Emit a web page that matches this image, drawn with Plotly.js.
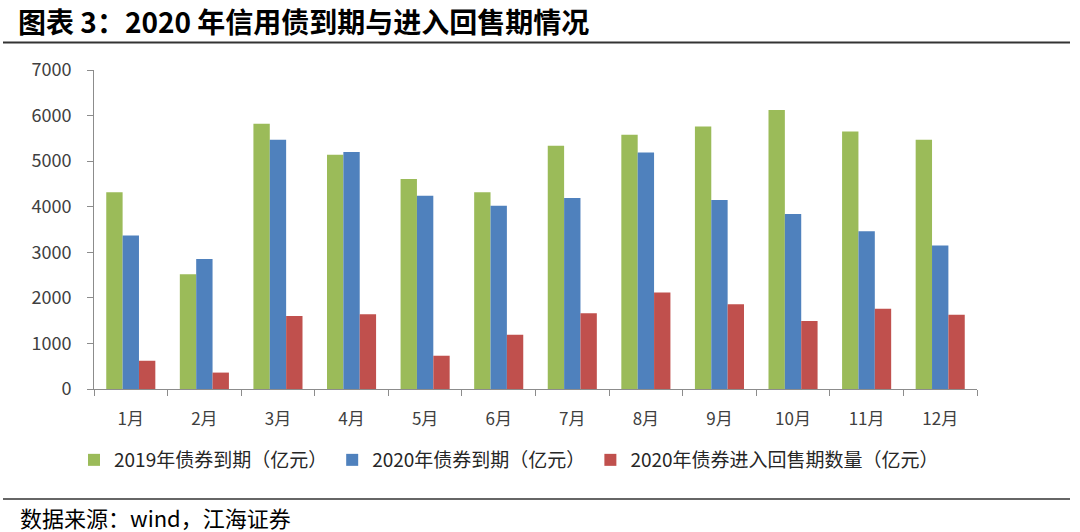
<!DOCTYPE html>
<html>
<head>
<meta charset="utf-8">
<script src="https://cdn.plot.ly/plotly-3.0.1.min.js"></script>
<style>html,body{margin:0;padding:0;background:#fff;}#chart{width:1080px;height:532px;}</style>
</head>
<body>
<div id="chart"></div>
<script>
const months = ["1月","2月","3月","4月","5月","6月","7月","8月","9月","10月","11月","12月"];
const due2019 = [4320, 2520, 5820, 5140, 4610, 4320, 5340, 5580, 5760, 6120, 5650, 5470];
const due2020 = [3370, 2850, 5470, 5200, 4240, 4020, 4190, 5190, 4150, 3840, 3460, 3150];
const putback2020 = [620, 360, 1600, 1640, 730, 1190, 1660, 2120, 1860, 1490, 1760, 1630];
const seriesNames = ["2019年债券到期（亿元）","2020年债券到期（亿元）","2020年债券进入回售期数量（亿元）"];
const colors = ["#9BBB59","#4F81BD","#C0504D"];
const titleText = "图表 3：2020 年信用债到期与进入回售期情况";
const sourceText = "数据来源：wind，江海证券";

const font = "Noto Sans CJK SC, Noto Sans, sans-serif";
const vals = [due2019, due2020, putback2020];
const traces = vals.map((v,i)=>({
  type:"bar", x:months, y:v, name:seriesNames[i],
  marker:{color:colors[i], line:{width:0}},
  hoverinfo:"y"
}));

// plot area: left 94, right 977, top 70, bottom 389
const L=94, R=977, T=70, B=389, W=1080, H=532;
const px = x => (x-L)/(R-L);
const py = y => (B-y)/(B-T);

const layout = {
  width:W, height:H,
  margin:{l:L, r:W-R, t:T, b:H-B, pad:0},
  paper_bgcolor:"#fff", plot_bgcolor:"#fff",
  font:{family:font, color:"#404040", size:16},
  barmode:"group", bargap:0.333, bargroupgap:0,
  title:{text:"<b>"+titleText+"</b>", x:18/W, xanchor:"left", xref:"container",
         y:1-23/H, yanchor:"middle", yref:"container",
         font:{family:font, size:28, color:"#000"}},
  xaxis:{type:"category", showline:true, linecolor:"#8c8c8c", linewidth:1,
         ticks:"outside", tickson:"boundaries", ticklen:6, tickcolor:"#8c8c8c",
         tickfont:{size:17, color:"#404040", family:font}, showgrid:false, zeroline:false,
         ticklabelstandoff:15, fixedrange:true},
  yaxis:{range:[0,7000], dtick:1000, tick0:0, showline:true, linecolor:"#8c8c8c", linewidth:1,
         ticks:"outside", ticklen:6, tickcolor:"#8c8c8c", showgrid:false, zeroline:false,
         tickfont:{size:18, color:"#404040", family:font}, ticklabelstandoff:12, fixedrange:true},
  showlegend:true,
  legend:{orientation:"h", x:px(509), xanchor:"center", y:py(460), yanchor:"middle",
          font:{size:19, color:"#262626", family:font}, itemwidth:30, bgcolor:"rgba(0,0,0,0)"},
  shapes:[
    {type:"line", xref:"paper", yref:"paper", x0:px(3), x1:px(1070), y0:py(42.5), y1:py(42.5),
     line:{color:"#333", width:2}},
    {type:"line", xref:"paper", yref:"paper", x0:px(3), x1:px(1070), y0:py(499), y1:py(499),
     line:{color:"#333", width:1.5}}
  ],
  annotations:[
    {text:sourceText, xref:"paper", yref:"paper", x:px(18), y:py(517), xanchor:"left", yanchor:"middle",
     showarrow:false, font:{size:22, color:"#000", family:font}}
  ]
};
Plotly.newPlot("chart", traces, layout, {displayModeBar:false, staticPlot:true});
</script>
</body>
</html>
